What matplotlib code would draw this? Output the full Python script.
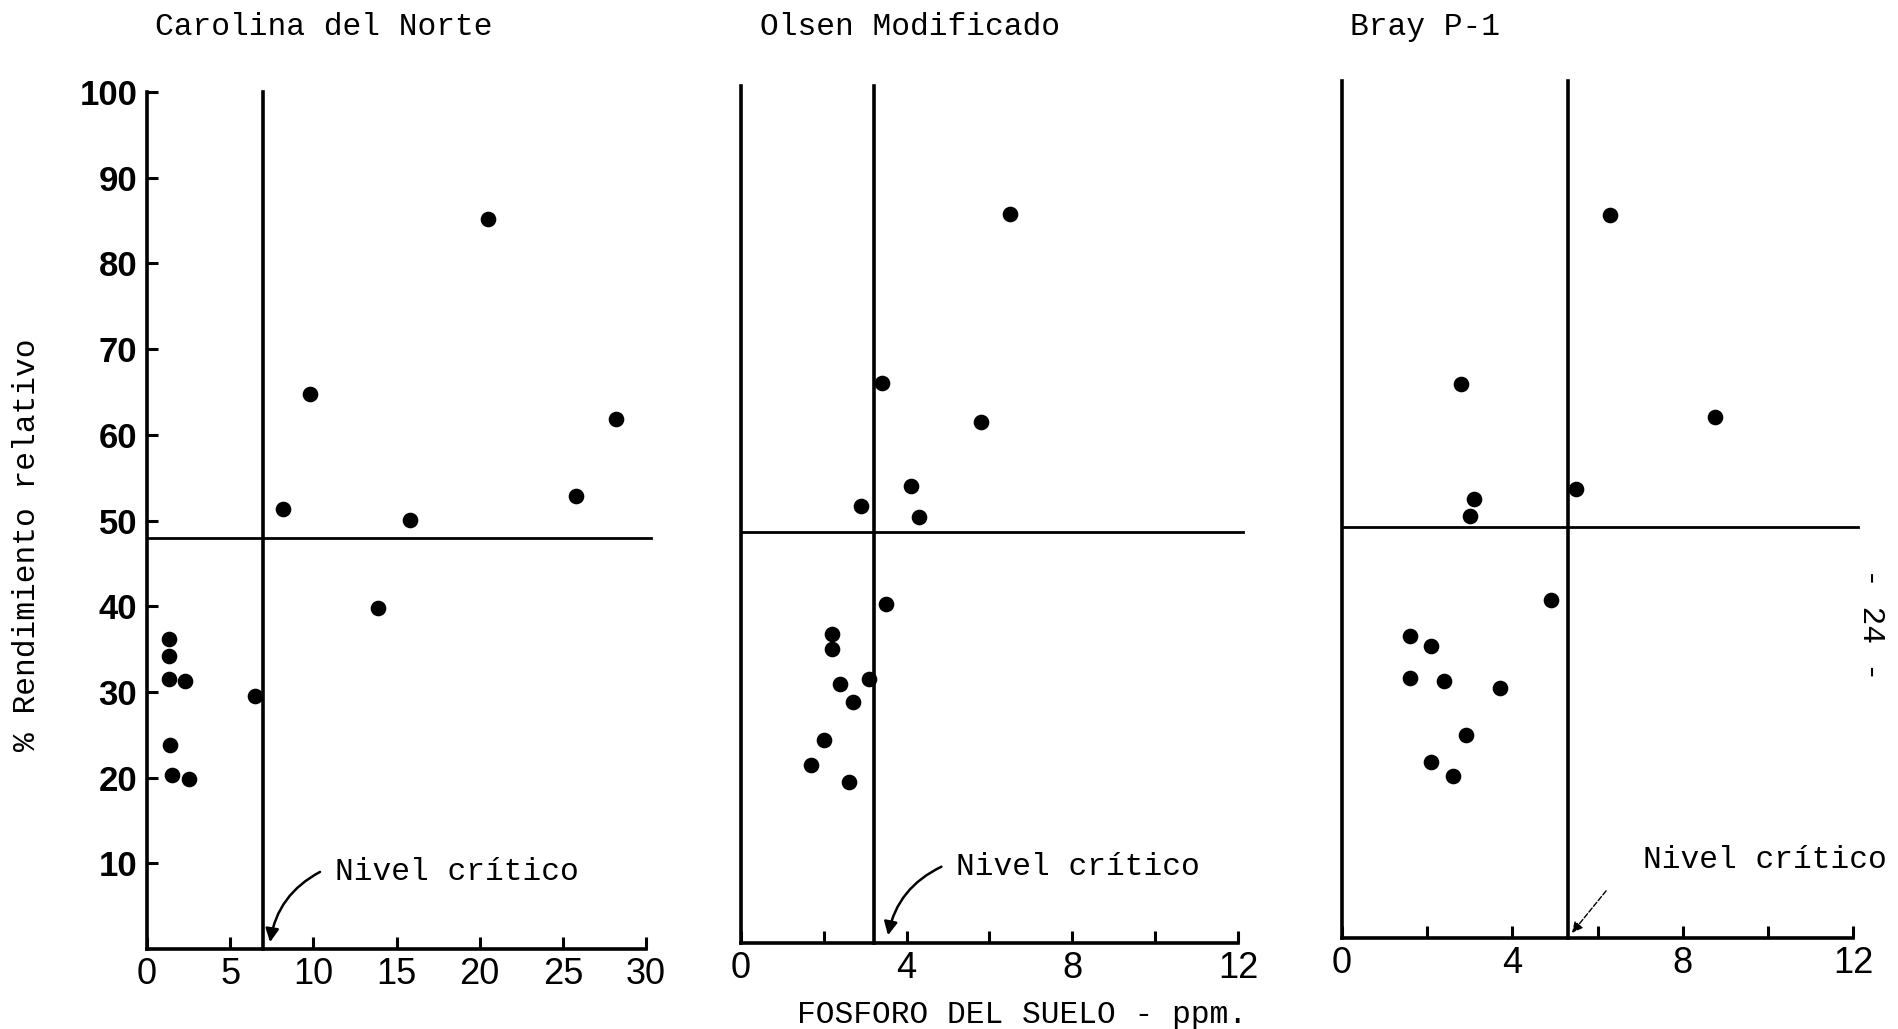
import matplotlib
matplotlib.use('Agg')
import matplotlib.pyplot as plt

# ----------------------------
# Datos
# ----------------------------
titulos = ['Carolina del Norte', 'Olsen Modificado', 'Bray P-1']

carolina_x = [1.3, 1.3, 1.3, 2.3, 1.4, 1.5, 2.5, 6.5, 13.9, 8.2, 15.8, 9.8, 20.5, 28.2, 25.8]
carolina_y = [36.2, 34.2, 31.5, 31.3, 23.8, 20.3, 19.8, 29.5, 39.8, 51.3, 50.1, 64.8, 85.2, 61.9, 52.9]

olsen_x = [6.5, 3.4, 5.8, 4.1, 2.9, 4.3, 3.5, 2.2, 2.2, 2.4, 3.1, 2.7, 2.0, 1.7, 2.6]
olsen_y = [85.1, 65.4, 60.8, 53.3, 51.0, 49.7, 39.5, 36.1, 34.3, 30.2, 30.8, 28.1, 23.7, 20.8, 18.8]

bray_x = [6.3, 2.8, 8.75, 5.5, 3.1, 3.0, 4.9, 1.6, 2.1, 1.6, 2.4, 3.7, 2.9, 2.1, 2.6]
bray_y = [84.4, 64.6, 60.8, 52.4, 51.2, 49.3, 39.5, 35.3, 34.1, 30.4, 30.0, 29.2, 23.7, 20.6, 18.9]

nivel_critico_x = [7.0, 3.2, 5.3]
nivel_critico_y = [48, 48, 48]

xmax = [30, 12, 12]
xticks_lbl = [[0, 5, 10, 15, 20, 25, 30], [0, 4, 8, 12], [0, 4, 8, 12]]
xticks_min = [[], [2, 6, 10], [2, 6, 10]]
yticks = [10, 20, 30, 40, 50, 60, 70, 80, 90, 100]

plt.rcParams['font.family'] = ['Liberation Mono', 'DejaVu Sans Mono']
ft_x = dict(family=['Liberation Sans Narrow', 'Liberation Sans'], size=26)
ft_y = dict(family=['Liberation Sans Narrow', 'Liberation Sans'], size=25, weight='bold')

fig = plt.figure(figsize=(18.99, 10.29), dpi=100)

# posiciones de los tres paneles (fracción de figura)
pos = [[0.0774, 0.0777, 0.2628, 0.8328],
       [0.3902, 0.0836, 0.2617, 0.8328],
       [0.7067, 0.0884, 0.2691, 0.8328]]

datos = [(carolina_x, carolina_y), (olsen_x, olsen_y), (bray_x, bray_y)]

for i in range(3):
    ax = fig.add_axes(pos[i])
    x, y = datos[i]
    ax.scatter(x, y, s=105, color='black', zorder=3, clip_on=False)

    # líneas del nivel crítico
    ax.plot([nivel_critico_x[i], nivel_critico_x[i]], [0, 100], color='black', lw=2.6, clip_on=False)
    ax.plot([0, xmax[i] * 1.01], [nivel_critico_y[i], nivel_critico_y[i]], color='black', lw=2.0, clip_on=False)

    ax.set_xlim(0, xmax[i])
    ax.set_ylim(0, 100)
    for s in ['top', 'right']:
        ax.spines[s].set_visible(False)
    for s in ['left', 'bottom']:
        ax.spines[s].set_linewidth(2.6)

    ax.set_xticks(xticks_lbl[i])
    ax.set_xticks(xticks_min[i], minor=True)
    ax.set_xticklabels([str(t) for t in xticks_lbl[i]], fontdict=ft_x)
    ax.tick_params(axis='x', which='both', direction='in', length=9, width=2.2, pad=6)

    if i == 0:
        ax.set_yticks(yticks)
        ax.set_yticklabels([str(t) for t in yticks], fontdict=ft_y)
        ax.tick_params(axis='y', direction='in', length=8, width=2.2, pad=7)
    else:
        ax.set_yticks([])

    fig.text([0.0816, 0.4002, 0.7109][i], 0.9738, titulos[i], fontsize=22.5, va='center', ha='left')

    # flecha "Nivel crítico"
    txt_xy = [(11.3, 9.0), (5.2, 8.9), (7.07, 9.1)][i]
    flecha = [(7.4, 0.8), (3.55, 0.9), (5.4, 0.6)][i]
    ax.text(txt_xy[0], txt_xy[1], 'Nivel crítico', fontsize=22.5, va='center', ha='left')
    if i < 2:
        ax.annotate('', xy=flecha, xytext=(txt_xy[0] - 0.03 * xmax[i], txt_xy[1]),
                    annotation_clip=False,
                    arrowprops=dict(arrowstyle='-|>', color='black', lw=1.8, mutation_scale=20,
                                    connectionstyle='arc3,rad=0.25', shrinkA=0, shrinkB=0))
    else:
        ax.annotate('', xy=flecha, xytext=(6.2, 5.5), annotation_clip=False,
                    arrowprops=dict(arrowstyle='-|>', color='black', lw=1.0, ls='--',
                                    mutation_scale=16, shrinkA=0, shrinkB=0))

fig.text(0.0142, 0.4704, '% Rendimiento relativo', rotation=90, fontsize=22.5, va='center', ha='center')
fig.text(0.538, 0.0136, 'FOSFORO DEL SUELO - ppm.', fontsize=22.5, va='center', ha='center')
fig.text(0.985, 0.393, '- 24 -', rotation=-90, fontsize=22.5, va='center', ha='center')

fig.savefig('out.png', dpi=100, facecolor='white')
